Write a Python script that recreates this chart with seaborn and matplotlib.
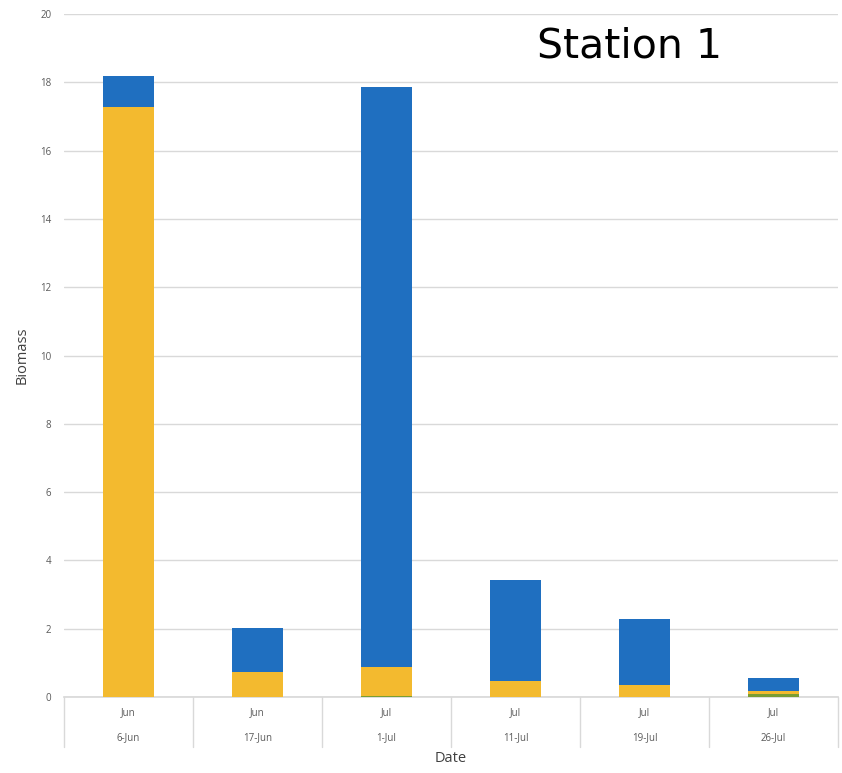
import matplotlib
matplotlib.use("Agg")
import matplotlib.pyplot as plt
import matplotlib.transforms as mtransforms
import seaborn as sns
import pandas as pd
import numpy as np

dates = ["6-Jun", "17-Jun", "1-Jul", "11-Jul", "19-Jul", "26-Jul"]
months = ["Jun", "Jun", "Jul", "Jul", "Jul", "Jul"]
green = [0.0, 0.0, 0.03, 0.0, 0.0, 0.10]
yellow = [17.28, 0.73, 0.85, 0.47, 0.35, 0.08]
blue = [0.90, 1.29, 16.98, 2.96, 1.93, 0.37]

sns.set_theme(style="white")
plt.rcParams['font.family'] = ['Open Sans', 'DejaVu Sans']

df = pd.DataFrame({"Date": dates, "green": green, "yellow": yellow, "blue": blue})
df["gy"] = df["green"] + df["yellow"]
df["total"] = df["gy"] + df["blue"]

fig = plt.figure(figsize=(8.42, 7.73), dpi=100)
ax = fig.add_axes([64/842, 1 - 697/773, (838-64)/842, (697-14)/773])

for col, c in [("total", "#1F6FC0"), ("gy", "#F3BA2F"), ("green", "#7A9E33")]:
    sns.barplot(data=df, x="Date", y=col, color=c, width=0.4, ax=ax,
                saturation=1, zorder=3, linewidth=0, edgecolor=c)

ax.set_xlim(-0.5, 5.5)
ax.set_ylim(0, 20)
ax.set_yticks(np.arange(0, 21, 2))
ax.yaxis.grid(True, color="#d9d9d9", lw=1, zorder=0)
ax.tick_params(axis="y", length=0, labelsize=7, labelcolor="#595959", pad=9)
for s in ["left", "right", "top"]:
    ax.spines[s].set_visible(False)
ax.spines["bottom"].set_color("#d9d9d9")
ax.set_xticks([])
ax.set_xlabel("")
ax.set_ylabel("Biomass", fontsize=10.5, color="#404040", labelpad=8)

trans = mtransforms.blended_transform_factory(ax.transData, ax.transAxes)
def yfrac(py):
    return (697 - py) / 683.0

for i, (m, d) in enumerate(zip(months, dates)):
    ax.text(i, yfrac(713), m, transform=trans, ha="center", va="center", fontsize=7, color="#595959")
    ax.text(i, yfrac(738), d, transform=trans, ha="center", va="center", fontsize=7, color="#595959")
for x in np.arange(-0.5, 6.0, 1.0):
    ax.plot([x, x], [0, yfrac(747)], transform=trans, color="#d9d9d9", lw=1, clip_on=False)

ax.text(2.5, yfrac(758), "Date", transform=trans, ha="center", va="center", fontsize=10.5, color="#404040")

ax.text(3.885, 19.05, "Station 1", fontsize=29.5, color="black", ha="center", va="center",
        family=["DejaVu Sans"])

fig.savefig("out.png", dpi=100)
